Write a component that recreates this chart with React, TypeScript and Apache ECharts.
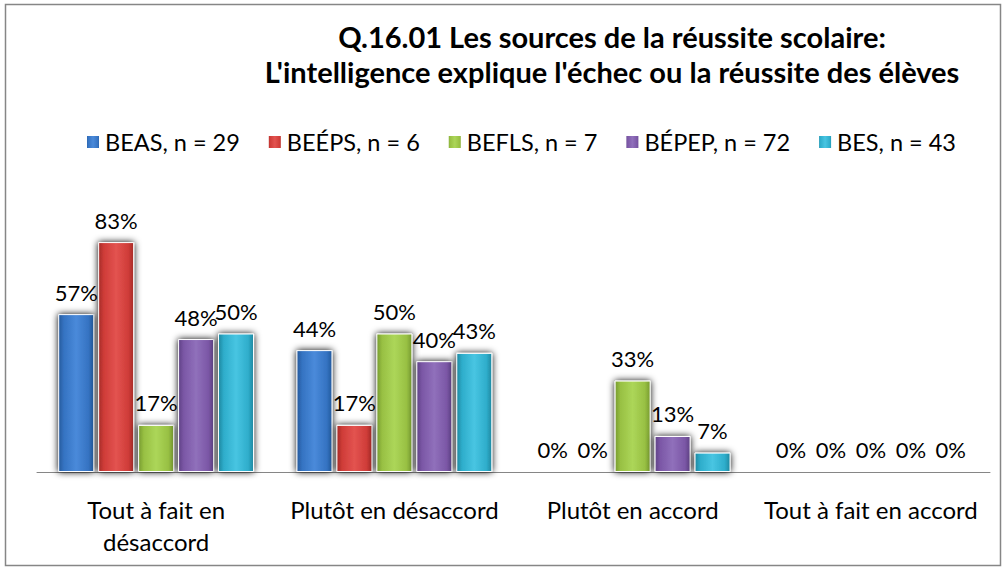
import React, { useEffect, useRef } from "react";
import * as echarts from "echarts";

const categories = ["Tout à fait en\ndésaccord", "Plutôt en désaccord", "Plutôt en accord", "Tout à fait en accord"];
const seriesNames = ["BEAS, n = 29", "BEÉPS, n = 6", "BEFLS, n = 7", "BÉPEP, n = 72", "BES, n = 43"];
const beas = [57, 44, 0, 0];
const beeps = [83, 17, 0, 0];
const befls = [17, 50, 33, 0];
const bepep = [48, 40, 13, 0];
const bes = [50, 43, 7, 0];
const seriesValues = [beas, beeps, befls, bepep, bes];
const baseColors = ["#3573c2", "#cf3c38", "#98c043", "#7b57a6", "#2eadcb"];
const lightColors = ["#4a8ada", "#e35350", "#acd659", "#9070bb", "#48c5e2"];
const darkColors = ["#245a9c", "#a52a27", "#779b30", "#5f4286", "#1f879f"];

const FONT = "Lato, 'Open Sans', sans-serif";

export default function App() {
  const ref = useRef<HTMLDivElement>(null);
  useEffect(() => {
    if (!ref.current) return;
    const chart = echarts.init(ref.current, undefined, { renderer: "svg" });
    const series = seriesNames.map((name, i) => ({
      name,
      type: "bar",
      data: seriesValues[i],
      barWidth: 36,
      barGap: "11%",
      itemStyle: {
        color: new echarts.graphic.LinearGradient(0, 0, 1, 0, [
          { offset: 0, color: darkColors[i] },
          { offset: 0.15, color: baseColors[i] },
          { offset: 0.5, color: lightColors[i] },
          { offset: 0.85, color: baseColors[i] },
          { offset: 1, color: darkColors[i] },
        ]),
        borderColor: "#ffffff",
        borderWidth: 1,
        shadowColor: "rgba(0,0,0,1)",
        shadowBlur: 7,
      },
      label: {
        show: true,
        position: "top",
        distance: 11,
        formatter: "{c}%",
        fontSize: 22,
        fontFamily: FONT,
        color: "#000",
      },
    }));
    chart.setOption({
      animation: false,
      backgroundColor: "#ffffff",
      color: baseColors,
      title: {
        text: "Q.16.01 Les sources de la réussite scolaire:\nL'intelligence explique l'échec ou la réussite des élèves",
        left: 607,
        top: 14,
        textAlign: "center",
        textStyle: {
          fontSize: 29,
          fontWeight: "bold",
          fontFamily: FONT,
          color: "#000",
          lineHeight: 35,
        },
      },
      legend: {
        data: seriesNames,
        left: 80,
        top: 125,
        itemWidth: 14,
        itemHeight: 14,
        itemGap: 27,
        icon: "rect",
        textStyle: { fontSize: 23.5, fontFamily: FONT, color: "#000" },
      },
      grid: { left: 37, right: 16, top: 195, bottom: 97 },
      xAxis: {
        type: "category",
        data: categories,
        axisLine: { lineStyle: { color: "#868686", width: 1 } },
        axisTick: { show: false },
        axisLabel: {
          fontSize: 24,
          fontFamily: FONT,
          color: "#000",
          margin: 21,
          lineHeight: 32,
          interval: 0,
        },
      },
      yAxis: {
        type: "value",
        min: 0,
        max: 100,
        show: false,
      },
      graphic: [
        {
          type: "rect",
          shape: { x: 5.5, y: 4.5, width: 995, height: 561 },
          style: { fill: "none", stroke: "#868686", lineWidth: 1.5 },
          silent: true,
        },
      ],
      series,
    });
    return () => chart.dispose();
  }, []);
  return (
    <div
      ref={ref}
      style={{ position: "absolute", left: 0, top: 0, width: 1006, height: 569 }}
    />
  );
}
